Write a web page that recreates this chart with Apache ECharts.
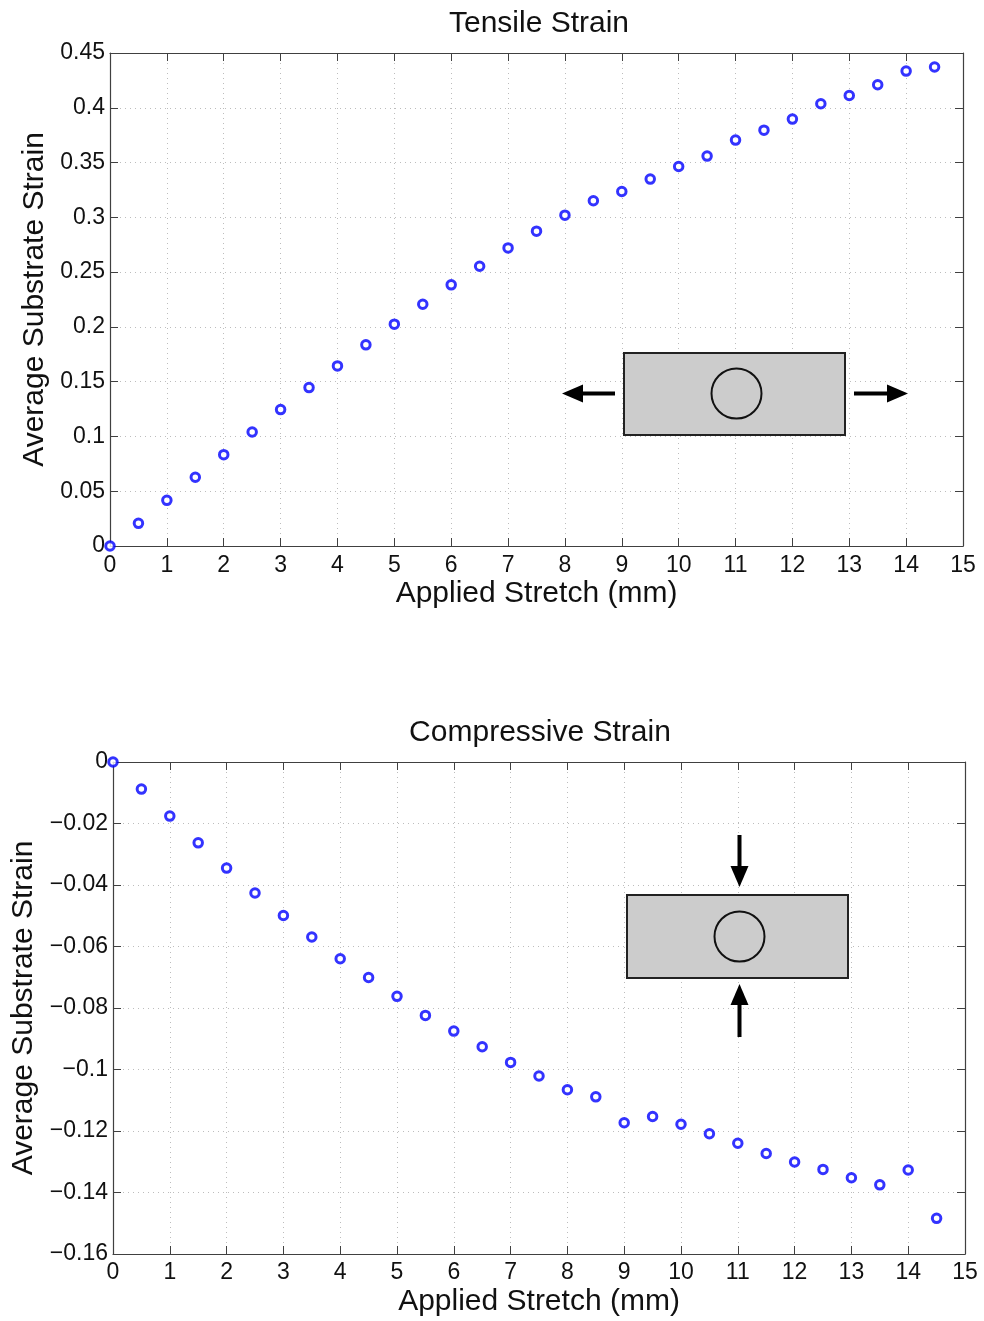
<!DOCTYPE html>
<html>
<head>
<meta charset="utf-8">
<title>Substrate Strain</title>
<script src="https://cdn.jsdelivr.net/npm/echarts@6/dist/echarts.min.js"></script>
<style>
  html, body { margin: 0; padding: 0; background: #fff; }
  #main { width: 984px; height: 1321px; }
</style>
</head>
<body>
<div id="main"></div>
<script>
// applied stretch (mm)
const stretch = [0, 0.5, 1, 1.5, 2, 2.5, 3, 3.5, 4, 4.5, 5, 5.5, 6, 6.5, 7, 7.5,
  8, 8.5, 9, 9.5, 10, 10.5, 11, 11.5, 12, 12.5, 13, 13.5, 14, 14.5]

// average substrate strain, tensile test
const tensile = [0, 0.0207, 0.0417, 0.0627, 0.0834, 0.1041, 0.1245, 0.1446, 0.1644, 0.1836,
  0.2025, 0.2207, 0.2384, 0.2554, 0.2721, 0.2874, 0.3020, 0.3151, 0.3236, 0.3349,
  0.3464, 0.3559, 0.3705, 0.3796, 0.3897, 0.4037, 0.4112, 0.4210, 0.4335, 0.4372]

// average substrate strain, compressive test
const compressive = [0, -0.0088, -0.0176, -0.0263, -0.0345, -0.0426, -0.0499, -0.0569, -0.0640, -0.0701,
  -0.0762, -0.0824, -0.0875, -0.0926, -0.0977, -0.1021, -0.1066, -0.1089, -0.1173, -0.1153,
  -0.1178, -0.1209, -0.1240, -0.1273, -0.1301, -0.1325, -0.1352, -0.1375, -0.1327, -0.1484]

const titles = ['Tensile Strain', 'Compressive Strain']
const xName = 'Applied Stretch (mm)'
const yName = 'Average Substrate Strain'

const font = '"Liberation Sans", Arial, Helvetica, sans-serif'
const axisColor = '#404040'

function zip(xs, ys) {
  return xs.map((x, i) => [x, ys[i]])
}

function fmt(v) {
  if (v === 0) return '0'
  return String(+v.toFixed(2)).replace('-', '\u2212')
}

// main axis (with labels) or mirror axis (ticks only, top/right side of the box)
function xAx(grid, pos, main, gap, lblMargin) {
  return {
    type: 'value', gridIndex: grid, position: pos,
    min: 0, max: 15, interval: 1,
    name: main ? xName : '', nameLocation: 'middle', nameGap: gap,
    nameTextStyle: { fontFamily: font, fontSize: 30, color: '#111' },
    axisLine: { show: true, onZero: false, lineStyle: { color: axisColor, width: 1.2 } },
    axisTick: { show: true, inside: true, length: 8, lineStyle: { color: axisColor } },
    axisLabel: { show: main, fontFamily: font, fontSize: 23, color: '#111', margin: lblMargin },
    splitLine: { show: main, lineStyle: { color: '#bdbdbd', type: [1, 4], width: 1 } }
  }
}

function yAx(grid, pos, main, min, max, step, gap) {
  return {
    type: 'value', gridIndex: grid, position: pos,
    min: min, max: max, interval: step,
    name: main ? yName : '', nameLocation: 'middle', nameGap: gap,
    nameTextStyle: { fontFamily: font, fontSize: 30, color: '#111' },
    axisLine: { show: true, onZero: false, lineStyle: { color: axisColor, width: 1.2 } },
    axisTick: { show: true, inside: true, length: 8, lineStyle: { color: axisColor } },
    axisLabel: { show: main, fontFamily: font, fontSize: 23, color: '#111', margin: 5, formatter: fmt },
    splitLine: { show: main, lineStyle: { color: '#bdbdbd', type: [1, 4], width: 1 } }
  }
}

function pts(xi, yi, data) {
  return {
    type: 'scatter', xAxisIndex: xi, yAxisIndex: yi, data: data,
    symbol: 'circle', symbolSize: 8.5, clip: false,
    itemStyle: { color: '#fff', borderColor: '#0000ff', borderWidth: 3 },
    z: 5
  }
}

// inset sketches (specimen with load arrows), drawn above the grid lines
const box = { fill: '#cccccc', stroke: '#222', lineWidth: 2 }
const ring = { fill: '#cccccc', stroke: '#111', lineWidth: 2 }
const ink = { fill: '#000' }

const graphic = [
  // tensile inset
  { type: 'rect', z: 10, shape: { x: 624, y: 353, width: 221, height: 82 }, style: box },
  { type: 'circle', z: 11, shape: { cx: 736.5, cy: 393.5, r: 25 }, style: ring },
  { type: 'rect', z: 10, shape: { x: 580, y: 391.5, width: 35, height: 4 }, style: ink },
  { type: 'polygon', z: 10, shape: { points: [[562, 393.5], [583, 384.5], [583, 402.5]] }, style: ink },
  { type: 'rect', z: 10, shape: { x: 854, y: 391.5, width: 36, height: 4 }, style: ink },
  { type: 'polygon', z: 10, shape: { points: [[908, 393.5], [887, 384.5], [887, 402.5]] }, style: ink },
  // compressive inset
  { type: 'rect', z: 10, shape: { x: 627, y: 895, width: 221, height: 83 }, style: box },
  { type: 'circle', z: 11, shape: { cx: 739.5, cy: 936.5, r: 25 }, style: ring },
  { type: 'rect', z: 10, shape: { x: 737.5, y: 835, width: 4, height: 34 }, style: ink },
  { type: 'polygon', z: 10, shape: { points: [[739.5, 887], [730.5, 866], [748.5, 866]] }, style: ink },
  { type: 'rect', z: 10, shape: { x: 737.5, y: 1003, width: 4, height: 34 }, style: ink },
  { type: 'polygon', z: 10, shape: { points: [[739.5, 984], [730.5, 1005], [748.5, 1005]] }, style: ink }
]

const option = {
  animation: false,
  backgroundColor: '#fff',
  title: [
    { text: titles[0], left: 534, top: 4, textAlign: 'center',
      textStyle: { fontFamily: font, fontSize: 30, fontWeight: 'normal', color: '#111' } },
    { text: titles[1], left: 535, top: 713, textAlign: 'center',
      textStyle: { fontFamily: font, fontSize: 30, fontWeight: 'normal', color: '#111' } }
  ],
  grid: [
    { left: 110, top: 53, width: 853, height: 493 },
    { left: 113, top: 762, width: 852, height: 492 }
  ],
  xAxis: [
    xAx(0, 'bottom', true, 33, 8),
    xAx(0, 'top', false, 0, 8),
    xAx(1, 'bottom', true, 33, 7),
    xAx(1, 'top', false, 0, 7)
  ],
  yAxis: [
    yAx(0, 'left', true, 0, 0.45, 0.05, 60),
    yAx(0, 'right', false, 0, 0.45, 0.05, 0),
    yAx(1, 'left', true, -0.16, 0, 0.02, 74),
    yAx(1, 'right', false, -0.16, 0, 0.02, 0)
  ],
  series: [
    pts(0, 0, zip(stretch, tensile)),
    pts(2, 2, zip(stretch, compressive))
  ],
  graphic: graphic
}

const chart = echarts.init(document.getElementById('main'))
chart.setOption(option)
</script>
</body>
</html>
